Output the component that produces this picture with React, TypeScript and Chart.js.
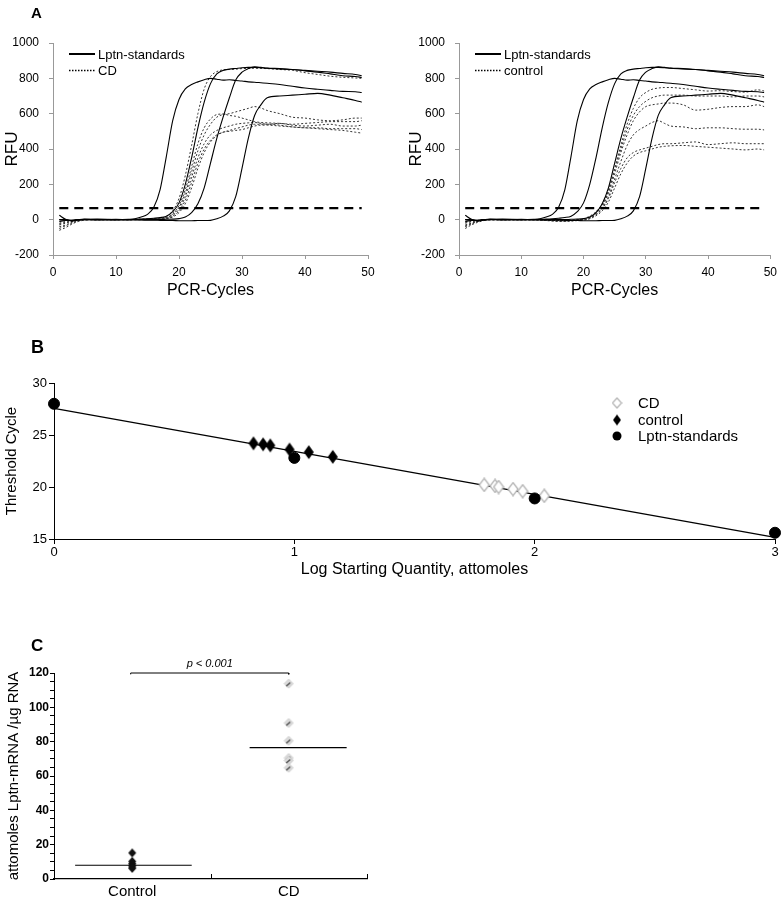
import React, { useEffect, useRef } from 'react';
import { Chart, registerables } from 'chart.js';

Chart.register(...registerables);

const FONT = "'Liberation Sans', Arial, Helvetica, sans-serif";
Chart.defaults.font.family = FONT;
Chart.defaults.color = '#000';

// ---------------- Panel A data ----------------
const cyclesA = [1, 2, 3, 4, 5, 7, 10, 12, 13, 14, 15, 16, 17, 18, 19, 20, 21, 22, 23, 24, 25, 26, 27, 28, 29, 30, 31, 32, 33, 34, 36, 38, 40, 42, 44, 46, 48, 49];
const standardsLabel = 'Lptn-standards';
const std1 = [25, 2, -8, -2, 2, 3, 0, 2, 5, 15, 30, 70, 170, 360, 560, 680, 740, 765, 780, 792, 800, 795, 790, 792, 788, 785, 780, 778, 775, 772, 765, 755, 745, 738, 732, 726, 724, 720];
const std2 = [-10, -5, -3, 0, 2, 0, 2, 0, 2, 3, 5, 8, 12, 20, 45, 95, 200, 350, 520, 665, 770, 825, 845, 852, 856, 860, 862, 862, 860, 857, 853, 850, 845, 840, 835, 828, 822, 815];
const std3 = [0, -3, -5, -2, 0, 0, 0, 0, 0, 0, 0, 0, 0, 2, 3, 6, 15, 40, 90, 180, 320, 460, 580, 690, 790, 835, 855, 865, 862, 858, 855, 850, 842, 835, 825, 815, 810, 805];
const std4 = [0, 0, -3, 0, 2, 0, 0, 0, 0, -2, -3, -3, -4, -5, -5, -6, -6, -6, -5, -5, -4, 5, 20, 50, 130, 290, 460, 590, 650, 690, 700, 705, 710, 715, 705, 690, 675, 665];

const cdLabel = 'CD';
const cd1 = [-20, -10, -5, 0, 0, 0, 0, 0, 2, 3, 4, 5, 8, 20, 50, 120, 250, 420, 600, 740, 810, 838, 848, 850, 852, 855, 856, 857, 856, 855, 850, 845, 832, 822, 812, 806, 802, 800];
const cd2 = [-60, -45, -25, -10, -3, 0, -2, 0, 0, 2, 3, 5, 7, 12, 30, 70, 150, 270, 390, 480, 540, 580, 595, 600, 610, 620, 630, 640, 632, 618, 600, 580, 575, 565, 560, 565, 575, 575];
const cd3 = [-40, -30, -15, -5, 0, 0, 0, 0, 1, 2, 3, 4, 6, 12, 35, 80, 170, 300, 430, 520, 570, 595, 598, 590, 585, 575, 565, 555, 550, 548, 545, 540, 545, 550, 555, 555, 555, 560];
const cd4 = [-30, -20, -10, -3, 0, 0, 0, 0, 0, 1, 2, 3, 5, 8, 25, 60, 130, 240, 350, 430, 480, 505, 520, 530, 540, 545, 548, 550, 545, 540, 545, 535, 530, 535, 540, 530, 530, 535];
const cd5 = [-50, -35, -20, -8, -2, 0, 0, 0, 0, 1, 2, 3, 4, 6, 20, 50, 110, 210, 320, 400, 450, 480, 495, 505, 515, 525, 535, 540, 540, 540, 535, 525, 520, 520, 515, 515, 515, 510];
const cd6 = [-25, -15, -8, -2, 0, 0, 0, 0, 0, 0, 1, 2, 3, 5, 15, 40, 90, 180, 290, 380, 440, 475, 495, 500, 505, 510, 520, 530, 535, 535, 530, 525, 520, 515, 510, 505, 495, 490];

const controlLabel = 'control';
const ct1 = [-50, -30, -15, -5, 0, 0, 0, 0, -3, -5, -8, -10, -10, -8, -5, 5, 20, 45, 90, 170, 290, 420, 540, 630, 690, 720, 738, 745, 748, 748, 742, 735, 728, 730, 725, 722, 735, 728];
const ct2 = [-40, -25, -10, -3, 0, 0, 0, 0, -2, -4, -6, -8, -8, -6, -3, 3, 15, 40, 80, 160, 280, 400, 510, 590, 640, 670, 690, 700, 705, 705, 705, 700, 700, 700, 695, 700, 700, 695];
const ct3 = [-30, -20, -8, -2, 0, 0, 0, 0, -2, -3, -5, -6, -7, -5, -3, 2, 12, 35, 75, 150, 260, 380, 480, 560, 610, 640, 650, 655, 660, 660, 650, 620, 625, 635, 640, 640, 650, 640];
const ct4 = [-20, -12, -5, 0, 0, 0, 0, 0, -2, -3, -4, -5, -6, -5, -3, 0, 10, 30, 65, 130, 230, 330, 420, 480, 510, 530, 550, 560, 545, 530, 525, 515, 520, 520, 515, 512, 512, 508];
const ct5 = [-15, -10, -5, 0, 0, 0, 0, 0, -1, -2, -3, -4, -5, -4, -2, 0, 8, 28, 60, 120, 210, 290, 350, 380, 395, 405, 415, 425, 430, 430, 435, 440, 425, 430, 435, 430, 430, 430];
const ct6 = [-35, -22, -10, -3, 0, 0, 0, 0, -1, -2, -3, -4, -4, -3, -2, -2, 5, 22, 50, 100, 180, 260, 320, 360, 380, 390, 400, 410, 415, 418, 420, 415, 410, 405, 400, 395, 400, 395];

const thresholdCycles = [1, 49];
const thresholdRFU = 65;

// ---------------- Panel B data ----------------
const stdLogQ = [0, 1, 2, 3];
const stdCt = [28.0, 22.8, 18.9, 15.6];
const controlLogQ = [0.83, 0.87, 0.9, 0.98, 1.06, 1.16];
const controlCt = [24.2, 24.1, 24.0, 23.6, 23.35, 22.9];
const cdLogQ = [1.79, 1.835, 1.85, 1.91, 1.95, 2.04];
const cdCt = [20.2, 20.1, 20.0, 19.8, 19.6, 19.15];
const fitLogQ = [0, 3];
const fitCt = [27.55, 15.15];

// ---------------- Panel C data ----------------
const groupNames = ['Control', 'CD'];
const groupPos = [0.5, 1.5];
const controlAmount = [15.2, 10.3, 9.0, 8.0, 7.0, 6.2];
const cdAmount = [113.8, 90.9, 80.5, 70.5, 69.0, 64.8];
const controlMeanLine = { from: 0.135, to: 0.88, value: 8 };
const cdMeanLine = { from: 1.25, to: 1.87, value: 76.5 };
const bracketX = [0.49, 1.5];
const bracketY = [119.2, 120];
const pText = 'p < 0.001';
const separatorsC = [1, 2];

// ---------------- helpers ----------------
function curve(values: number[], dash: number[], color: string, width: number) {
  return {
    data: cyclesA.map((c, i) => ({ x: c, y: values[i] })),
    borderColor: color,
    borderWidth: width,
    borderDash: dash,
    pointRadius: 0,
    fill: false,
    cubicInterpolationMode: 'monotone',
  };
}

function diamondImg(w: number, h: number, fill: string, stroke: string, lw: number, slash?: string) {
  const c = document.createElement('canvas');
  c.width = w + 2;
  c.height = h + 2;
  const g = c.getContext('2d') as CanvasRenderingContext2D;
  const cx = c.width / 2, cy = c.height / 2;
  g.beginPath();
  g.moveTo(cx, 1);
  g.lineTo(c.width - 1, cy);
  g.lineTo(cx, c.height - 1);
  g.lineTo(1, cy);
  g.closePath();
  g.fillStyle = fill;
  g.fill();
  if (lw > 0) {
    g.strokeStyle = stroke;
    g.lineWidth = lw;
    g.stroke();
  }
  if (slash) {
    g.strokeStyle = slash;
    g.lineWidth = 1.3;
    g.beginPath();
    g.moveTo(cx - 2.5, cy + 2.5);
    g.lineTo(cx + 1.5, cy - 1);
    g.stroke();
  }
  return c;
}

function buildA(sampleCurves: number[][], sampleLabel: string, yWidth: number, titlePad: number, padRight: number) {
  const datasets: any[] = [];
  datasets.push({
    data: thresholdCycles.map((c) => ({ x: c, y: thresholdRFU })),
    borderColor: '#000',
    borderWidth: 2.2,
    borderDash: [9, 6],
    pointRadius: 0,
  });
  [std1, std2, std3, std4].forEach((v) => datasets.push(curve(v, [], '#000', 1.1)));
  sampleCurves.forEach((v) => datasets.push(curve(v, [2, 2], '#333', 1)));

  const legendPlugin = {
    id: 'legendA',
    afterDraw(chart: any) {
      const { ctx, chartArea } = chart;
      const items = [
        { text: standardsLabel, dash: [] as number[], lw: 2 },
        { text: sampleLabel, dash: [1.5, 1.5], lw: 1.6 },
      ];
      ctx.save();
      ctx.font = `13px ${FONT}`;
      ctx.textBaseline = 'middle';
      ctx.fillStyle = '#000';
      ctx.strokeStyle = '#000';
      items.forEach((it, i) => {
        const y = chartArea.top + 11 + i * 16.5;
        const x0 = chartArea.left + 16;
        ctx.setLineDash(it.dash);
        ctx.lineWidth = it.lw;
        ctx.beginPath();
        ctx.moveTo(x0, y);
        ctx.lineTo(x0 + 26, y);
        ctx.stroke();
        ctx.setLineDash([]);
        ctx.fillText(it.text, x0 + 29, y + 1);
      });
      ctx.restore();
    },
  };

  return {
    type: 'line',
    data: { datasets },
    options: {
      responsive: false,
      animation: false,
      events: [],
      layout: { padding: { top: 43, right: padRight, left: 0, bottom: 0 } },
      plugins: { legend: { display: false }, tooltip: { enabled: false } },
      scales: {
        x: {
          type: 'linear',
          min: 0,
          max: 50,
          ticks: { stepSize: 10, font: { size: 12 }, padding: 6, color: '#000', callback: (v: any) => String(v) },
          grid: { drawOnChartArea: false, tickLength: 4, color: '#999' },
          border: { color: '#999' },
          title: { display: true, text: 'PCR-Cycles', font: { size: 16 }, padding: { top: 0, bottom: 0 }, color: '#000' },
          afterFit: (s: any) => { s.height = 45; },
        },
        y: {
          min: -200,
          max: 1000,
          ticks: { stepSize: 200, font: { size: 12 }, padding: 10, color: '#000', callback: (v: any) => String(v) },
          grid: { drawOnChartArea: false, tickLength: 4, color: '#999' },
          border: { color: '#999' },
          title: { display: true, text: 'RFU', font: { size: 17 }, padding: { top: titlePad, bottom: 0 }, color: '#000' },
          afterFit: (s: any) => { s.width = yWidth; },
        },
      },
    },
    plugins: [legendPlugin],
  };
}

function buildB() {
  const cdImg = diamondImg(10, 13, '#fff', '#b5b5b5', 1.3);
  const ctImg = diamondImg(10, 14, '#000', '#000', 0);
  const cdLegImg = diamondImg(9, 10, '#fff', '#b5b5b5', 1.2);
  const ctLegImg = diamondImg(8, 11, '#000', '#000', 0);

  const legendPlugin = {
    id: 'legendB',
    afterDraw(chart: any) {
      const { ctx, chartArea } = chart;
      const mx = chartArea.right - 158;
      const tx = chartArea.right - 137;
      const rows = [chartArea.top + 20, chartArea.top + 37, chartArea.top + 53];
      ctx.save();
      ctx.drawImage(cdLegImg, mx - cdLegImg.width / 2, rows[0] - cdLegImg.height / 2);
      ctx.drawImage(ctLegImg, mx - ctLegImg.width / 2, rows[1] - ctLegImg.height / 2);
      ctx.fillStyle = '#000';
      ctx.beginPath();
      ctx.arc(mx, rows[2], 4.5, 0, Math.PI * 2);
      ctx.fill();
      ctx.font = `15px ${FONT}`;
      ctx.textBaseline = 'middle';
      ctx.fillText(cdLabel, tx, rows[0] + 1);
      ctx.fillText(controlLabel, tx, rows[1] + 1);
      ctx.fillText(standardsLabel, tx, rows[2] + 1);
      ctx.restore();
    },
  };

  return {
    type: 'scatter',
    data: {
      datasets: [
        {
          data: stdLogQ.map((x, i) => ({ x, y: stdCt[i] })),
          pointStyle: 'circle',
          pointRadius: 5.5,
          backgroundColor: '#000',
          borderColor: '#000',
          clip: false,
          order: 0,
        },
        {
          data: controlLogQ.map((x, i) => ({ x, y: controlCt[i] })),
          pointStyle: ctImg,
          clip: false,
          order: 1,
        },
        {
          data: cdLogQ.map((x, i) => ({ x, y: cdCt[i] })),
          pointStyle: cdImg,
          clip: false,
          order: 2,
        },
        {
          data: fitLogQ.map((x, i) => ({ x, y: fitCt[i] })),
          showLine: true,
          borderColor: '#000',
          borderWidth: 1.3,
          pointRadius: 0,
          clip: false,
          order: 3,
        },
      ],
    },
    options: {
      responsive: false,
      animation: false,
      events: [],
      layout: { padding: { top: 103, right: 8, left: 0, bottom: 0 } },
      plugins: { legend: { display: false }, tooltip: { enabled: false } },
      scales: {
        x: {
          type: 'linear',
          min: 0,
          max: 3,
          ticks: { stepSize: 1, font: { size: 13 }, padding: 1, color: '#000' },
          grid: { drawOnChartArea: false, tickLength: 5, color: '#000' },
          border: { color: '#000' },
          title: { display: true, text: 'Log Starting Quantity, attomoles', font: { size: 16 }, padding: { top: 0, bottom: 1 }, color: '#000' },
          afterFit: (s: any) => { s.height = 41; },
        },
        y: {
          min: 15,
          max: 30,
          ticks: { stepSize: 5, font: { size: 13 }, padding: 2, color: '#000' },
          grid: { drawOnChartArea: false, tickLength: 5, color: '#000' },
          border: { color: '#000' },
          title: { display: true, text: 'Threshold Cycle', font: { size: 15 }, padding: { top: 3, bottom: 0 }, color: '#000' },
          afterFit: (s: any) => { s.width = 54; },
        },
      },
    },
    plugins: [legendPlugin],
  };
}

function buildC() {
  const ctImg = diamondImg(8, 9, '#111', '#000', 0);
  const cdImg = diamondImg(9, 9, '#dcdcdc', '#c4c4c4', 0.8, '#444');

  const decoPlugin = {
    id: 'decoC',
    afterDraw(chart: any) {
      const { ctx, chartArea, scales } = chart;
      ctx.save();
      ctx.strokeStyle = '#000';
      ctx.lineWidth = 1;
      separatorsC.forEach((v) => {
        const x = Math.round(scales.x.getPixelForValue(v)) + 0.5;
        ctx.beginPath();
        ctx.moveTo(x, chartArea.bottom);
        ctx.lineTo(x, chartArea.bottom - 5);
        ctx.stroke();
      });
      const cx = (scales.x.getPixelForValue(bracketX[0]) + scales.x.getPixelForValue(bracketX[1])) / 2;
      ctx.font = `italic 11px ${FONT}`;
      ctx.textAlign = 'center';
      ctx.textBaseline = 'alphabetic';
      ctx.fillStyle = '#000';
      ctx.fillText(pText, cx, scales.y.getPixelForValue(bracketY[1]) - 6);
      ctx.restore();
    },
  };

  const bracket = [
    { x: bracketX[0], y: bracketY[0] },
    { x: bracketX[0], y: bracketY[1] },
    { x: bracketX[1], y: bracketY[1] },
    { x: bracketX[1], y: bracketY[0] },
  ];

  return {
    type: 'scatter',
    data: {
      datasets: [
        {
          data: controlAmount.map((y) => ({ x: groupPos[0], y })),
          pointStyle: ctImg,
          clip: false,
          order: 0,
        },
        {
          data: cdAmount.map((y) => ({ x: groupPos[1], y })),
          pointStyle: cdImg,
          clip: false,
          order: 1,
        },
        {
          data: [{ x: controlMeanLine.from, y: controlMeanLine.value }, { x: controlMeanLine.to, y: controlMeanLine.value }],
          showLine: true,
          borderColor: '#000',
          borderWidth: 1.2,
          pointRadius: 0,
          order: 2,
        },
        {
          data: [{ x: cdMeanLine.from, y: cdMeanLine.value }, { x: cdMeanLine.to, y: cdMeanLine.value }],
          showLine: true,
          borderColor: '#000',
          borderWidth: 1.2,
          pointRadius: 0,
          order: 3,
        },
        {
          data: bracket,
          showLine: true,
          borderColor: '#000',
          borderWidth: 1,
          pointRadius: 0,
          clip: false,
          order: 4,
        },
      ],
    },
    options: {
      responsive: false,
      animation: false,
      events: [],
      layout: { padding: { top: 93, right: 53, left: 0, bottom: 0 } },
      plugins: { legend: { display: false }, tooltip: { enabled: false } },
      scales: {
        x: {
          type: 'linear',
          min: 0,
          max: 2,
          afterBuildTicks: (s: any) => {
            s.ticks = groupPos.map((v) => ({ value: v }));
          },
          ticks: {
            font: { size: 15 },
            padding: 4,
            color: '#000',
            autoSkip: false,
            maxRotation: 0,
            callback: (v: any) => {
              const i = groupPos.indexOf(Number(v));
              return i >= 0 ? groupNames[i] : '';
            },
          },
          grid: { display: false, drawTicks: false },
          border: { display: true, color: '#000', width: 1.2 },
          afterFit: (s: any) => { s.height = 21; },
        },
        y: {
          min: 0,
          max: 120,
          ticks: {
            stepSize: 5,
            autoSkip: false,
            font: { size: 12, weight: 'bold' },
            padding: 1,
            color: '#000',
            callback: (v: any) => (Number(v) % 20 === 0 ? String(v) : ''),
          },
          grid: { drawOnChartArea: false, tickLength: 4, color: '#000' },
          border: { color: '#000' },
          title: { display: true, text: 'attomoles Lptn-mRNA /µg RNA', font: { size: 15 }, padding: { top: 5, bottom: 0 }, color: '#000' },
          afterFit: (s: any) => { s.width = 54; },
        },
      },
    },
    plugins: [decoPlugin],
  };
}

function ChartCanvas(props: { left: number; top: number; width: number; height: number; build: () => any }) {
  const ref = useRef<HTMLCanvasElement>(null);
  useEffect(() => {
    const chart = new Chart(ref.current as HTMLCanvasElement, props.build());
    return () => chart.destroy();
  }, []);
  const { left, top, width, height } = props;
  return (
    <canvas
      ref={ref}
      width={width}
      height={height}
      style={{ position: 'absolute', left, top, width, height, display: 'block' }}
    />
  );
}

const letterStyle = (left: number, top: number, size: number): React.CSSProperties => ({
  position: 'absolute',
  left,
  top,
  fontFamily: FONT,
  fontWeight: 'bold',
  fontSize: size,
  lineHeight: `${size}px`,
  color: '#000',
});

export default function App() {
  return (
    <div style={{ position: 'absolute', left: 0, top: 0, width: 783, height: 900, background: '#fff', overflow: 'hidden' }}>
      <ChartCanvas left={0} top={0} width={390} height={300} build={() => buildA([cd1, cd2, cd3, cd4, cd5, cd6], cdLabel, 53, 2.4, 22)} />
      <ChartCanvas left={390} top={0} width={393} height={300} build={() => buildA([ct1, ct2, ct3, ct4, ct5, ct6], controlLabel, 69, 16, 10)} />
      <ChartCanvas left={0} top={280} width={783} height={300} build={buildB} />
      <ChartCanvas left={0} top={580} width={420} height={320} build={buildC} />
      <div style={letterStyle(31, 5, 15)}>A</div>
      <div style={letterStyle(31, 338, 18)}>B</div>
      <div style={letterStyle(31, 637, 17)}>C</div>
    </div>
  );
}
